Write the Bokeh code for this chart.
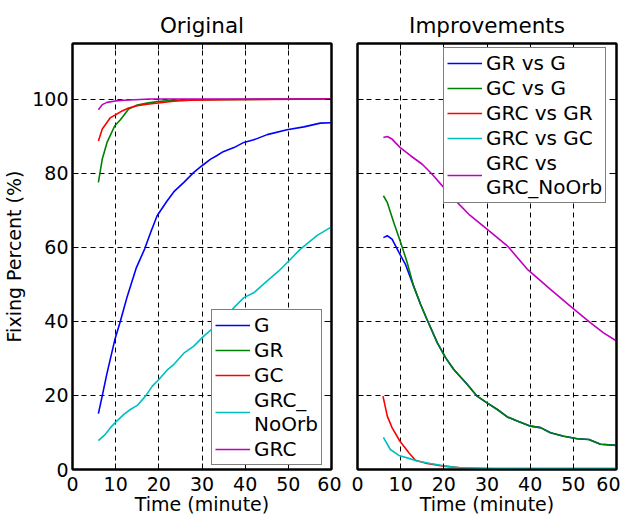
from bokeh.plotting import figure
from bokeh.layouts import row
from bokeh.models import (Legend, LegendItem, LinearAxis, FixedTicker, Range1d,
                          CustomJSTickFormatter)
from bokeh.embed import file_html
from bokeh.resources import INLINE

FONT = "DejaVu Sans"

# ---- data: Original ----
t_G = [6, 7, 8, 9.8, 11.1, 12.7, 14.8, 16.7, 18.1, 19.6, 21.9, 23.5, 25.8, 28.1, 30, 32, 33.4,
       34.9, 37.4, 39.7, 42, 45.1, 49.7, 53.6, 57.4, 60]
v_G = [15.1, 20.5, 26, 35, 40.1, 46.8, 54.5, 59.5, 64, 68.5, 72.5, 75, 77.5, 80.2, 82, 83.8, 84.7,
       85.8, 86.9, 88.3, 89, 90.4, 91.7, 92.5, 93.5, 93.6]
t_GR = [6, 6.9, 8, 9.8, 11.1, 13, 15, 17.3, 19.6, 23.4, 30, 40, 50, 60]
v_GR = [77.5, 83.8, 88.3, 92.8, 94.4, 97.3, 98.4, 98.9, 99.3, 99.7, 99.8, 99.9, 100, 100]
t_GC = [6, 6.9, 8.8, 9.9, 11.5, 13, 15, 17.3, 20.4, 23.4, 27.3, 35, 45, 60]
v_GC = [88.7, 91.9, 95, 95.7, 96.8, 97.6, 98.2, 98.6, 99.0, 99.4, 99.7, 99.8, 99.9, 100]
t_NoOrb = [6, 7.6, 8.8, 10, 11.9, 13.4, 15, 16.9, 18.5, 20, 21.9, 23.5, 25.8, 28.1, 30.4, 32.7,
           35, 37.4, 39.7, 42, 45.1, 47.8, 50.1, 52.8, 56.7, 60]
v_NoOrb = [7.8, 9.5, 11.3, 12.8, 14.9, 16.2, 17.3, 19.8, 22.5, 24.3, 26.8, 28.4, 31.4, 33.3, 36.0,
           38.3, 40.5, 43.7, 46.4, 47.7, 50.9, 53.6, 56.3, 59.5, 63.2, 65.5]
t_GRC = [6, 6.9, 8, 9.9, 12, 18, 30, 60]
v_GRC = [97.1, 98.5, 99.1, 99.5, 99.7, 100, 100, 100]

# ---- data: Improvements ----
t_tail = [16.1, 18.5, 20.4, 22.3, 25.4, 27.7, 30, 32.4, 34.7, 37, 40.1, 42.4, 44.7, 47.8, 50.9,
          53.6, 56.3, 60]
v_tail = [40.5, 34.2, 30.2, 27, 23, 19.8, 18, 16.2, 14.2, 13.1, 11.7, 11.3, 9.9, 9, 8.3, 8.1, 6.8, 6.5]
t_GRvsG = [6, 6.9, 8, 9.6, 11.1, 13, 14.6] + t_tail
v_GRvsG = [62.6, 63.1, 62.2, 58.6, 55.4, 49.5, 44.6] + v_tail
t_GCvsG = [6, 6.9, 8.4, 10, 11.5, 13, 14.6] + t_tail
v_GCvsG = [73.9, 72.1, 66.7, 61.3, 55.9, 49.5, 44.6] + v_tail
t_GRCvsGR = [5.9, 6.9, 8, 9.8, 11.9, 13.4, 16.1, 20, 25, 35, 60]
v_GRCvsGR = [19.8, 14.4, 11.3, 7.7, 4.5, 2.5, 1.6, 0.9, 0.3, 0.1, 0.05]
t_GRCvsGC = [6, 7.6, 9.6, 11.9, 13.8, 16.9, 20, 23.1, 30, 60]
v_GRCvsGC = [8.7, 5.4, 3.8, 3.0, 2.3, 1.6, 1.0, 0.5, 0.3, 0.3]
t_GRCvsNo = [6, 6.9, 8, 9.9, 12.3, 15, 17.3, 20, 23.1, 25.8, 30, 34.7, 39.3, 44.7, 49.7, 54, 57, 60]
v_GRCvsNo = [89.6, 89.9, 89.2, 86.9, 84.7, 82.4, 79.7, 76.1, 72.1, 68.9, 64.9, 60.4, 54.1, 48.6,
             43.7, 39.6, 36.9, 34.7]

x_ticks = [0, 10, 20, 30, 40, 50, 60]
y_ticks = [0, 20, 40, 60, 80, 100]

BLUE, GREEN, RED, CYAN, MAG = "#0000ff", "#008000", "#ff0000", "#00bfbf", "#bf00bf"
FS = "19px"
LFS = "20px"
EMPTY = "return ''"


def make(title, bl, br):
    p = figure(title=title, output_backend="svg", toolbar_location=None,
               frame_width=259, frame_height=426,
               x_range=Range1d(0, 60), y_range=Range1d(0, 115),
               min_border_left=bl, min_border_right=br, min_border_top=43, min_border_bottom=10)
    p.title.text_font = FONT
    p.title.text_font_size = "21.5px"
    p.title.text_font_style = "normal"
    p.title.text_color = "black"
    p.title.align = "center"
    p.title.standoff = 12
    p.outline_line_color = "black"
    p.outline_line_width = 2
    for g in (p.xgrid[0], p.ygrid[0]):
        g.grid_line_color = "black"
        g.grid_line_dash = "5 4"
        g.grid_line_width = 1
    p.xgrid.ticker = FixedTicker(ticks=x_ticks)
    p.ygrid.ticker = FixedTicker(ticks=y_ticks)
    for side, ticks in (("above", x_ticks), ("right", y_ticks)):
        a = LinearAxis(ticker=FixedTicker(ticks=ticks),
                       formatter=CustomJSTickFormatter(code=EMPTY),
                       major_label_text_font_size="1px", major_label_standoff=0)
        p.add_layout(a, side)
    for ax in p.above + p.below + p.left + p.right:
        if not isinstance(ax, LinearAxis):
            continue
        ax.axis_line_width = 2
        ax.major_tick_in = 6
        ax.major_tick_out = 0
        ax.minor_tick_in = 0
        ax.minor_tick_out = 0
        ax.major_tick_line_width = 1
        ax.major_label_text_font = FONT
        ax.major_label_text_color = "black"
        ax.axis_label_text_font = FONT
        ax.axis_label_text_font_size = FS
        ax.axis_label_text_font_style = "normal"
        ax.axis_label_text_color = "black"
    xa = p.below[0]
    ya = p.left[0]
    xa.ticker = FixedTicker(ticks=x_ticks)
    ya.ticker = FixedTicker(ticks=y_ticks)
    xa.major_label_text_font_size = FS
    ya.major_label_text_font_size = FS
    xa.major_label_standoff = 7
    xa.axis_label_standoff = -1
    ya.major_label_standoff = 4
    xa.axis_label = "Time (minute)"
    return p


p1 = make("Original", 72, 10)
p1.left[0].axis_label = "Fixing Percent (%)"
p1.left[0].axis_label_standoff = 4
r1 = [
    ("G", p1.line(t_G, v_G, color=BLUE, line_width=1.6)),
    ("GR", p1.line(t_GR, v_GR, color=GREEN, line_width=1.6)),
    ("GC", p1.line(t_GC, v_GC, color=RED, line_width=1.6)),
    ("GRC_\nNoOrb", p1.line(t_NoOrb, v_NoOrb, color=CYAN, line_width=1.6)),
    ("GRC", p1.line(t_GRC, v_GRC, color=MAG, line_width=1.6)),
]

p2 = make("Improvements", 16, 4)
p2.left[0].formatter = CustomJSTickFormatter(code=EMPTY)
p2.left[0].major_label_text_font_size = "1px"
p2.left[0].major_label_standoff = 0
r2 = [
    ("GR vs G", p2.line(t_GRvsG, v_GRvsG, color=BLUE, line_width=1.6)),
    ("GC vs G", p2.line(t_GCvsG, v_GCvsG, color=GREEN, line_width=1.6)),
    ("GRC vs GR", p2.line(t_GRCvsGR, v_GRCvsGR, color=RED, line_width=1.6)),
    ("GRC vs GC", p2.line(t_GRCvsGC, v_GRCvsGC, color=CYAN, line_width=1.6)),
    ("GRC vs\nGRC_NoOrb", p2.line(t_GRCvsNo, v_GRCvsNo, color=MAG, line_width=1.6)),
]


def add_legend(p, items, loc):
    lg = Legend(items=[LegendItem(label=l, renderers=[r]) for l, r in items], location=loc)
    lg.label_text_font = FONT
    lg.label_text_font_size = LFS
    lg.label_text_line_height = 1.1
    lg.label_text_color = "black"
    lg.label_standoff = 4
    lg.glyph_width = 35
    lg.glyph_height = 22
    lg.spacing = 1
    lg.padding = 3
    lg.margin = 0
    lg.border_line_color = "black"
    lg.border_line_width = 1.5
    lg.background_fill_alpha = 1
    p.add_layout(lg, "center")


add_legend(p1, r1, (139, 4))
add_legend(p2, r2, (86, 266))

layout = row(p1, p2)
open("out.html", "w").write(file_html(layout, INLINE))
